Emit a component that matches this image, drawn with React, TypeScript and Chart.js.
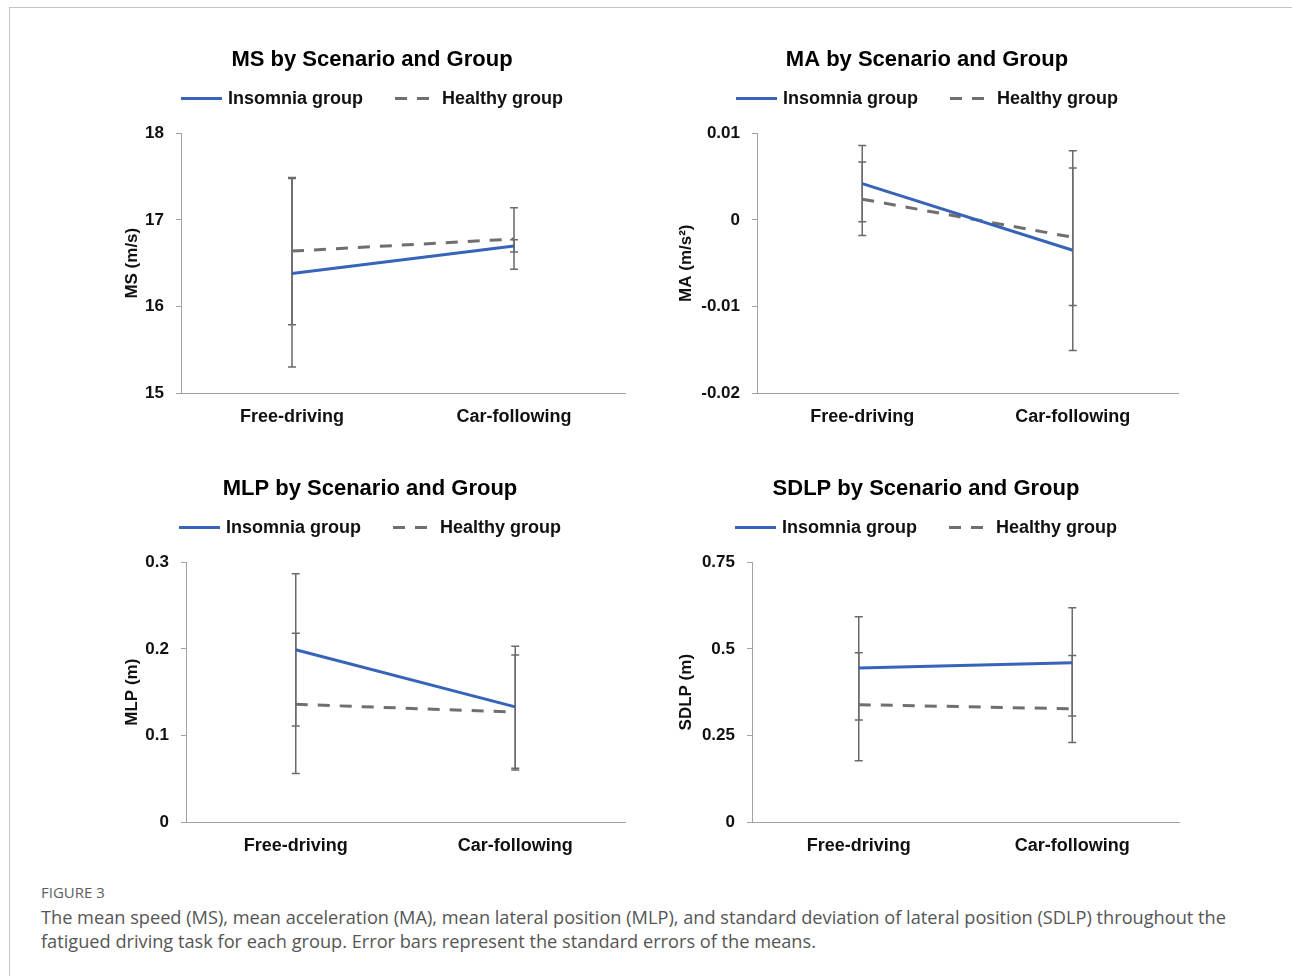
import React, { useEffect, useRef } from "react";
import { Chart, registerables } from "chart.js";

Chart.register(...registerables);

const FONT = "'Liberation Sans', Arial, Helvetica, sans-serif";
Chart.defaults.font.family = FONT;

// ---------- data ----------
const CATEGORIES = ["Free-driving", "Car-following"];
const SERIES_NAMES = ["Insomnia group", "Healthy group"];

// MS (m/s)
const MS_INSOMNIA = [16.38, 16.7];
const MS_HEALTHY = [16.64, 16.78];
const MS_INSOMNIA_LOW = [15.3, 16.63];
const MS_INSOMNIA_HIGH = [17.48, 16.77];
const MS_HEALTHY_LOW = [15.79, 16.43];
const MS_HEALTHY_HIGH = [17.49, 17.14];
const MS_TICKS = [15, 16, 17, 18];
const MS_TICK_LABELS = ["15", "16", "17", "18"];

// MA (m/s²)
const MA_INSOMNIA = [0.0042, -0.0035];
const MA_HEALTHY = [0.0024, -0.002];
const MA_INSOMNIA_LOW = [-0.0002, -0.0151];
const MA_INSOMNIA_HIGH = [0.0086, 0.008];
const MA_HEALTHY_LOW = [-0.0018, -0.0099];
const MA_HEALTHY_HIGH = [0.0067, 0.006];
const MA_TICKS = [-0.02, -0.01, 0, 0.01];
const MA_TICK_LABELS = ["-0.02", "-0.01", "0", "0.01"];

// MLP (m)
const MLP_INSOMNIA = [0.199, 0.133];
const MLP_HEALTHY = [0.136, 0.127];
const MLP_INSOMNIA_LOW = [0.111, 0.062];
const MLP_INSOMNIA_HIGH = [0.287, 0.203];
const MLP_HEALTHY_LOW = [0.056, 0.06];
const MLP_HEALTHY_HIGH = [0.218, 0.193];
const MLP_TICKS = [0, 0.1, 0.2, 0.3];
const MLP_TICK_LABELS = ["0", "0.1", "0.2", "0.3"];

// SDLP (m)
const SDLP_INSOMNIA = [0.445, 0.46];
const SDLP_HEALTHY = [0.339, 0.327];
const SDLP_INSOMNIA_LOW = [0.295, 0.306];
const SDLP_INSOMNIA_HIGH = [0.593, 0.619];
const SDLP_HEALTHY_LOW = [0.177, 0.23];
const SDLP_HEALTHY_HIGH = [0.489, 0.481];
const SDLP_TICKS = [0, 0.25, 0.5, 0.75];
const SDLP_TICK_LABELS = ["0", "0.25", "0.5", "0.75"];

// ---------- styles ----------
const BLUE = "#3763B9";
const GRAY_LINE = "#6f6f6f";
const AXIS = "#a3a3a3";
const ERR = "#6a6a6a";
const TEXT = "#111111";
const SIDE_PAD = 15;

const errorBarPlugin = {
  id: "errorBars",
  beforeDatasetsDraw(chart: any) {
    const { ctx } = chart;
    const xs = chart.scales.x;
    const ys = chart.scales.y;
    ctx.save();
    ctx.strokeStyle = ERR;
    ctx.lineWidth = 1.5;
    ctx.setLineDash([]);
    chart.data.datasets.forEach((ds: any) => {
      const lows = ds.errLow || [];
      const highs = ds.errHigh || [];
      ds.data.forEach((_v: number, i: number) => {
        const x = xs.getPixelForValue(i);
        const yl = ys.getPixelForValue(lows[i]);
        const yh = ys.getPixelForValue(highs[i]);
        ctx.beginPath();
        ctx.moveTo(x, yl);
        ctx.lineTo(x, yh);
        ctx.moveTo(x - 4, yl);
        ctx.lineTo(x + 4, yl);
        ctx.moveTo(x - 4, yh);
        ctx.lineTo(x + 4, yh);
        ctx.stroke();
      });
    });
    ctx.restore();
  },
};

const lineLegendPlugin = {
  id: "lineLegend",
  afterDraw(chart: any) {
    const { ctx } = chart;
    const y = chart.chartArea.top - 35;
    const lineLen = 41;
    const gapText = 6;
    const gapItems = 32;
    ctx.save();
    ctx.font = `bold 18px ${FONT}`;
    const items = chart.data.datasets.map((ds: any) => ({
      text: ds.label,
      w: ctx.measureText(ds.label).width,
      color: ds.borderColor,
      dash: ds.borderDash || [],
      width: ds.borderWidth,
    }));
    const total =
      items.reduce((s: number, it: any) => s + lineLen + gapText + it.w, 0) +
      gapItems * (items.length - 1);
    let x = chart.width / 2 - total / 2;
    items.forEach((it: any) => {
      ctx.beginPath();
      ctx.setLineDash(it.dash);
      ctx.strokeStyle = it.color;
      ctx.lineWidth = it.width;
      ctx.moveTo(x, y);
      ctx.lineTo(x + lineLen, y);
      ctx.stroke();
      ctx.setLineDash([]);
      x += lineLen + gapText;
      ctx.fillStyle = TEXT;
      ctx.textBaseline = "middle";
      ctx.textAlign = "left";
      ctx.fillText(it.text, x, y + 1);
      x += it.w + gapItems;
    });
    ctx.restore();
  },
};

type PanelProps = {
  left: number;
  top: number;
  width: number;
  height: number;
  yWidth: number;
  yTitlePad: number;
  title: string;
  yTitle: string;
  insomnia: number[];
  healthy: number[];
  insLow: number[];
  insHigh: number[];
  heaLow: number[];
  heaHigh: number[];
  ticks: number[];
  tickLabels: string[];
};

function Panel(p: PanelProps) {
  const ref = useRef<HTMLCanvasElement | null>(null);
  useEffect(() => {
    if (!ref.current) return;
    const chart = new Chart(ref.current, {
      type: "line",
      data: {
        labels: CATEGORIES,
        datasets: [
          {
            label: SERIES_NAMES[0],
            data: p.insomnia,
            borderColor: BLUE,
            backgroundColor: BLUE,
            borderWidth: 3,
            pointRadius: 0,
            tension: 0,
            errLow: p.insLow,
            errHigh: p.insHigh,
          } as any,
          {
            label: SERIES_NAMES[1],
            data: p.healthy,
            borderColor: GRAY_LINE,
            backgroundColor: GRAY_LINE,
            borderWidth: 3,
            borderDash: [12, 10],
            pointRadius: 0,
            tension: 0,
            errLow: p.heaLow,
            errHigh: p.heaHigh,
          } as any,
        ],
      },
      options: {
        responsive: false,
        animation: false,
        devicePixelRatio: 1,
        layout: { padding: { left: SIDE_PAD, right: SIDE_PAD, top: 0, bottom: 0 } },
        plugins: {
          legend: { display: false },
          tooltip: { enabled: false },
          title: {
            display: true,
            text: p.title,
            color: "#000",
            font: { size: 22, weight: "bold", lineHeight: 1.2 },
            padding: { top: 12, bottom: 60 },
          },
        },
        scales: {
          x: {
            type: "category",
            offset: true,
            grid: { display: false, drawTicks: false },
            border: { display: true, color: AXIS, width: 1 },
            ticks: {
              color: TEXT,
              font: { size: 18, weight: "bold" },
              padding: 13,
              maxRotation: 0,
              autoSkip: false,
            },
            afterFit: (s: any) => {
              s.height = 40;
            },
          },
          y: {
            type: "linear",
            min: p.ticks[0],
            max: p.ticks[p.ticks.length - 1],
            grid: {
              drawOnChartArea: false,
              drawTicks: true,
              tickLength: 5,
              color: AXIS,
            },
            border: { display: true, color: AXIS, width: 1 },
            ticks: {
              color: TEXT,
              font: { size: 17, weight: "bold" },
              padding: 12,
              callback: (_v: any, i: number) => p.tickLabels[i],
            },
            afterBuildTicks: (s: any) => {
              s.ticks = p.ticks.map((v) => ({ value: v }));
            },
            afterFit: (s: any) => {
              s.width = p.yWidth - SIDE_PAD;
            },
            title: {
              display: true,
              text: p.yTitle,
              color: TEXT,
              font: { size: 17, weight: "bold", lineHeight: 1.2 },
              padding: { top: Math.max(0, p.yTitlePad - SIDE_PAD), bottom: 0 },
            },
          },
        },
      } as any,
      plugins: [errorBarPlugin, lineLegendPlugin],
    });
    return () => chart.destroy();
  }, []);
  return (
    <canvas
      ref={ref}
      width={p.width}
      height={p.height}
      style={{
        position: "absolute",
        left: p.left,
        top: p.top,
        width: p.width,
        height: p.height,
        display: "block",
      }}
    />
  );
}

export default function App() {
  return (
    <div
      style={{
        position: "absolute",
        left: 0,
        top: 0,
        width: 1292,
        height: 976,
        overflow: "hidden",
        background: "#fff",
      }}
    >
      <div
        style={{
          position: "absolute",
          left: 9,
          top: 7,
          width: 1283,
          height: 969,
          boxSizing: "border-box",
          borderTop: "1px solid #c4c4c4",
          borderLeft: "1px solid #c4c4c4",
        }}
      />
      <Panel
        left={104}
        top={35}
        width={536}
        height={398}
        yWidth={77}
        yTitlePad={18}
        title="MS by Scenario and Group"
        yTitle="MS (m/s)"
        insomnia={MS_INSOMNIA}
        healthy={MS_HEALTHY}
        insLow={MS_INSOMNIA_LOW}
        insHigh={MS_INSOMNIA_HIGH}
        heaLow={MS_HEALTHY_LOW}
        heaHigh={MS_HEALTHY_HIGH}
        ticks={MS_TICKS}
        tickLabels={MS_TICK_LABELS}
      />
      <Panel
        left={661}
        top={35}
        width={532}
        height={398}
        yWidth={96}
        yTitlePad={15}
        title="MA by Scenario and Group"
        yTitle="MA (m/s²)"
        insomnia={MA_INSOMNIA}
        healthy={MA_HEALTHY}
        insLow={MA_INSOMNIA_LOW}
        insHigh={MA_INSOMNIA_HIGH}
        heaLow={MA_HEALTHY_LOW}
        heaHigh={MA_HEALTHY_HIGH}
        ticks={MA_TICKS}
        tickLabels={MA_TICK_LABELS}
      />
      <Panel
        left={100}
        top={464}
        width={540}
        height={398}
        yWidth={86}
        yTitlePad={22}
        title="MLP by Scenario and Group"
        yTitle="MLP (m)"
        insomnia={MLP_INSOMNIA}
        healthy={MLP_HEALTHY}
        insLow={MLP_INSOMNIA_LOW}
        insHigh={MLP_INSOMNIA_HIGH}
        heaLow={MLP_HEALTHY_LOW}
        heaHigh={MLP_HEALTHY_HIGH}
        ticks={MLP_TICKS}
        tickLabels={MLP_TICK_LABELS}
      />
      <Panel
        left={658}
        top={464}
        width={536}
        height={398}
        yWidth={94}
        yTitlePad={18}
        title="SDLP by Scenario and Group"
        yTitle="SDLP (m)"
        insomnia={SDLP_INSOMNIA}
        healthy={SDLP_HEALTHY}
        insLow={SDLP_INSOMNIA_LOW}
        insHigh={SDLP_INSOMNIA_HIGH}
        heaLow={SDLP_HEALTHY_LOW}
        heaHigh={SDLP_HEALTHY_HIGH}
        ticks={SDLP_TICKS}
        tickLabels={SDLP_TICK_LABELS}
      />
      <div
        style={{
          position: "absolute",
          left: 41,
          top: 882,
          fontFamily: "'Open Sans', sans-serif",
          fontSize: 15,
          color: "#5e5e5e",
          lineHeight: "20px",
          whiteSpace: "nowrap",
        }}
      >
        FIGURE 3
      </div>
      <div
        style={{
          position: "absolute",
          left: 41,
          top: 905,
          fontFamily: "'Open Sans', sans-serif",
          fontSize: 18.2,
          color: "#555555",
          lineHeight: "24px",
          whiteSpace: "nowrap",
        }}
      >
        <div>
          The mean speed (MS), mean acceleration (MA), mean lateral position (MLP), and standard deviation of lateral position (SDLP) throughout the
        </div>
        <div>fatigued driving task for each group. Error bars represent the standard errors of the means.</div>
      </div>
    </div>
  );
}
